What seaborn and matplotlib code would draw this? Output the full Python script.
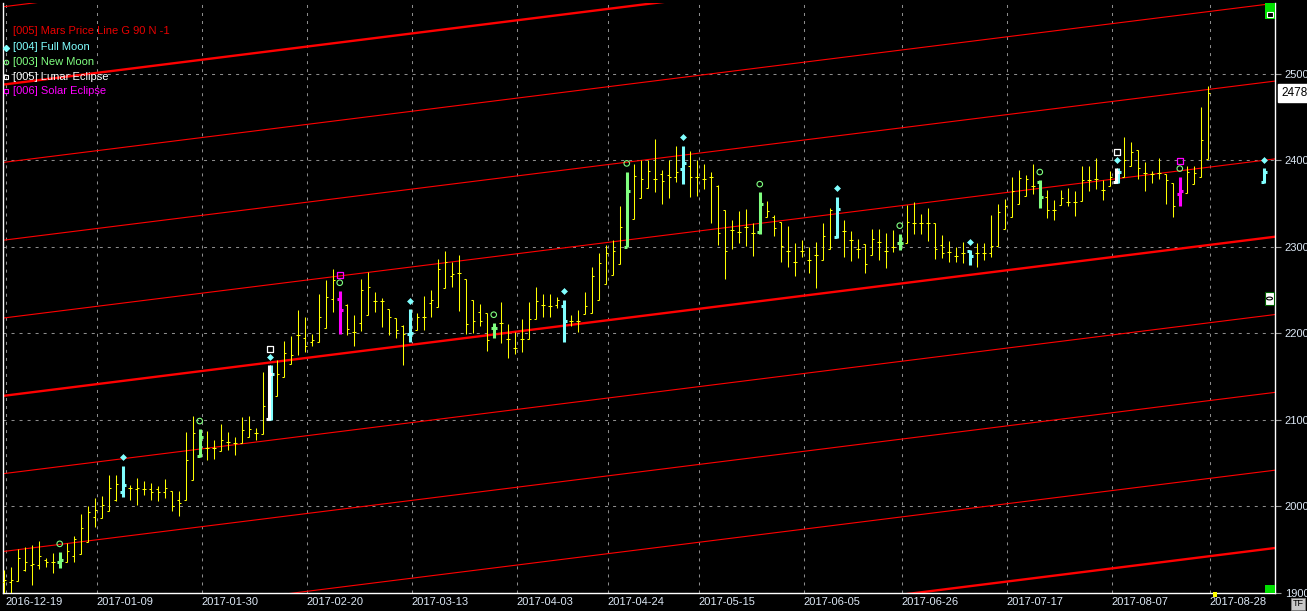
import numpy as np
import pandas as pd
import seaborn as sns
import matplotlib
matplotlib.use("Agg")
import matplotlib.pyplot as plt
from matplotlib.patches import Rectangle, Circle

# daily bars, x = bar number counted from 2016-12-19
opens = [1912, 1912, 1913, 1926, 1932, 1932, 1938, 1936, 1936, 1936,
         1942, 1945, 1959, 1988, 1986, 1994, 2007, 2017, 2021, 2020,
         2020, 2020, 2020, 2016, 2018, 2007, 2007, 2030, 2058, 2067,
         2067, 2064, 2074, 2073, 2073, 2080, 2085, 2084, 2101, 2127,
         2149, 2164, 2198, 2195, 2190, 2190, 2206, 2240, 2240, 2233,
         2202, 2212, 2221, 2237, 2237, 2228, 2218, 2208, 2199, 2204,
         2219, 2235, 2230, 2252, 2266, 2270, 2263, 2238, 2225, 2223,
         2206, 2212, 2193, 2183, 2193, 2193, 2216, 2233, 2231, 2233,
         2232, 2214, 2214, 2222, 2223, 2238, 2257, 2267, 2280, 2300,
         2332, 2356, 2368, 2379, 2384, 2383, 2381, 2390, 2393, 2381,
         2378, 2381, 2370, 2343, 2320, 2317, 2323, 2316, 2317, 2334,
         2334, 2329, 2295, 2283, 2295, 2285, 2291, 2285, 2298, 2311,
         2318, 2308, 2298, 2303, 2291, 2306, 2295, 2300, 2304, 2304,
         2328, 2328, 2328, 2327, 2302, 2294, 2289, 2293, 2295, 2293,
         2293, 2293, 2301, 2321, 2334, 2349, 2359, 2370, 2375, 2358,
         2343, 2348, 2352, 2352, 2353, 2377, 2379, 2366, 2370, 2375,
         2381, 2393, 2412, 2385, 2384, 2385, 2384, 2374, 2361, 2362,
         2373, 2381, 2402]
highs = [1926, 1930, 1951, 1953, 1955, 1960, 1940, 1946, 1947, 1958,
         1966, 1991, 2000, 2009, 2012, 2036, 2036, 2047, 2025, 2033,
         2029, 2027, 2023, 2032, 2018, 2018, 2086, 2104, 2089, 2087,
         2077, 2095, 2086, 2080, 2103, 2104, 2090, 2155, 2163, 2169,
         2191, 2197, 2227, 2219, 2199, 2246, 2262, 2274, 2249, 2234,
         2221, 2263, 2271, 2248, 2241, 2228, 2218, 2210, 2228, 2223,
         2243, 2250, 2286, 2295, 2283, 2290, 2263, 2238, 2234, 2223,
         2212, 2236, 2211, 2201, 2216, 2236, 2253, 2246, 2245, 2242,
         2239, 2221, 2227, 2248, 2277, 2293, 2302, 2308, 2347, 2387,
         2396, 2400, 2400, 2425, 2389, 2401, 2417, 2417, 2411, 2401,
         2396, 2387, 2371, 2343, 2331, 2342, 2344, 2327, 2363, 2353,
         2337, 2329, 2324, 2304, 2308, 2300, 2306, 2327, 2345, 2358,
         2331, 2318, 2309, 2303, 2321, 2321, 2316, 2320, 2315, 2348,
         2352, 2338, 2345, 2328, 2314, 2307, 2300, 2306, 2296, 2304,
         2304, 2337, 2350, 2355, 2381, 2389, 2383, 2396, 2377, 2366,
         2354, 2366, 2368, 2364, 2394, 2393, 2403, 2377, 2388, 2391,
         2427, 2421, 2412, 2398, 2388, 2403, 2384, 2374, 2381, 2393,
         2393, 2462, 2486]
lows = [1898, 1898, 1913, 1925, 1909, 1927, 1930, 1923, 1929, 1936,
        1935, 1945, 1959, 1976, 1986, 1994, 2006, 2011, 2007, 2001,
        2013, 2007, 2006, 2010, 1994, 1989, 2007, 2030, 2057, 2054,
        2055, 2064, 2065, 2059, 2073, 2080, 2077, 2084, 2100, 2127,
        2149, 2164, 2175, 2178, 2185, 2190, 2206, 2225, 2199, 2198,
        2185, 2203, 2221, 2225, 2207, 2198, 2194, 2163, 2190, 2204,
        2204, 2219, 2230, 2252, 2254, 2226, 2199, 2200, 2209, 2180,
        2194, 2189, 2172, 2176, 2178, 2193, 2216, 2219, 2219, 2229,
        2190, 2209, 2202, 2222, 2223, 2238, 2257, 2267, 2280, 2300,
        2332, 2356, 2368, 2363, 2349, 2357, 2375, 2373, 2358, 2359,
        2367, 2327, 2302, 2263, 2297, 2304, 2301, 2289, 2315, 2334,
        2312, 2283, 2277, 2266, 2288, 2270, 2252, 2285, 2297, 2310,
        2288, 2284, 2287, 2270, 2291, 2285, 2276, 2294, 2296, 2304,
        2315, 2315, 2307, 2286, 2287, 2283, 2283, 2281, 2279, 2277,
        2285, 2288, 2301, 2321, 2334, 2349, 2359, 2361, 2345, 2333,
        2331, 2348, 2347, 2336, 2353, 2364, 2367, 2354, 2370, 2374,
        2381, 2393, 2379, 2364, 2374, 2378, 2350, 2335, 2347, 2362,
        2373, 2381, 2402]
closes = [1915, 1915, 1940, 1936, 1933, 1942, 1936, 1936, 1938, 1948,
          1962, 1975, 1993, 1996, 2001, 2021, 2026, 2025, 2021, 2021,
          2020, 2017, 2017, 2021, 2000, 2004, 2053, 2085, 2080, 2067,
          2067, 2077, 2074, 2073, 2088, 2089, 2085, 2116, 2153, 2153,
          2177, 2175, 2198, 2185, 2192, 2219, 2242, 2262, 2227, 2205,
          2202, 2250, 2253, 2237, 2237, 2219, 2204, 2199, 2200, 2219,
          2219, 2239, 2274, 2282, 2269, 2270, 2211, 2214, 2214, 2192,
          2206, 2212, 2193, 2183, 2193, 2216, 2237, 2233, 2231, 2239,
          2214, 2214, 2214, 2231, 2266, 2281, 2293, 2295, 2323, 2365,
          2382, 2379, 2388, 2379, 2376, 2381, 2387, 2397, 2381, 2381,
          2378, 2381, 2316, 2295, 2320, 2317, 2323, 2316, 2350, 2341,
          2322, 2301, 2295, 2283, 2295, 2285, 2291, 2312, 2343, 2344,
          2318, 2308, 2298, 2280, 2309, 2306, 2295, 2300, 2304, 2329,
          2328, 2328, 2327, 2298, 2293, 2294, 2289, 2293, 2289, 2293,
          2293, 2301, 2340, 2347, 2364, 2380, 2379, 2370, 2358, 2343,
          2343, 2356, 2352, 2352, 2377, 2377, 2379, 2366, 2381, 2387,
          2401, 2410, 2391, 2385, 2384, 2385, 2377, 2347, 2365, 2386,
          2385, 2424, 2478]

date_ticks = [0, 13, 28, 43, 58, 73, 86, 99, 114, 128, 143, 158, 172]
date_labels = ["2016-12-19", "2017-01-09", "2017-01-30", "2017-02-20",
               "2017-03-13", "2017-04-03", "2017-04-24", "2017-05-15",
               "2017-06-05", "2017-06-26", "2017-07-17", "2017-08-07",
               "2017-08-28"]
price_ticks = [1900, 2000, 2100, 2200, 2300, 2400, 2500]
last_price = 2478

full_moon = [17, 38, 58, 80, 97, 119, 138, 159]
new_moon = [8, 28, 48, 70, 89, 108, 128, 148, 168]
lunar_eclipse = [38, 159]
solar_eclipse = [48, 168]

# next full moon, drawn past the last bar
proj_bar = 180
proj_ohlc = [2375, 2391, 2374, 2387]

# Mars price lines, G 90: level at bar -1 and at bar 182
mars_start = [1766.7, 1856.7, 1946.7, 2036.7, 2126.7,
              2216.7, 2306.7, 2396.7, 2486.7, 2576.7]
mars_end = [1952.1, 2042.1, 2132.1, 2222.1, 2312.1,
            2402.1, 2492.1, 2582.1, 2672.1, 2762.1]
mars_thick = [True, False, False, False, True,
              False, False, False, True, False]

assert len(opens) == len(highs) == len(lows) == len(closes) == 173

YELLOW = "#ffff00"
RED = "#ff0000"
CYAN = "#80ffff"
GREEN = "#80ff80"
MAGENTA = "#ff00ff"
WHITE = "#ffffff"
TXT = "#dde8f5"
FS = 8

sns.set_style("dark", {"axes.facecolor": "black", "figure.facecolor": "black"})
plt.rcParams["font.family"] = ["Liberation Sans", "DejaVu Sans"]

bars = pd.DataFrame({"open": opens, "high": highs, "low": lows, "close": closes})
bars["bar"] = np.arange(len(bars))

W, H = 1307, 611
fig = plt.figure(figsize=(W / 100, H / 100), dpi=100, facecolor="black")
ax = fig.add_axes([3 / W, (H - 592.7) / H, 1272 / W, (592.7 - 3) / H])
ax.set_facecolor("black")

# mars lines
rows = []
for i, (s, e, t) in enumerate(zip(mars_start, mars_end, mars_thick)):
    rows.append({"line": i, "bar": -1, "price": s, "thick": t})
    rows.append({"line": i, "bar": 182, "price": e, "thick": t})
mars = pd.DataFrame(rows)
sns.lineplot(data=mars[~mars.thick], x="bar", y="price", units="line",
             estimator=None, color=RED, lw=0.8, ax=ax, zorder=2)
sns.lineplot(data=mars[mars.thick], x="bar", y="price", units="line",
             estimator=None, color=RED, lw=1.7, ax=ax, zorder=2)

# plain bars
special = set(full_moon) | set(new_moon) | set(lunar_eclipse) | set(solar_eclipse)
plain = bars[~bars.bar.isin(special)]
kw = dict(color=YELLOW, lw=0.75, zorder=3)
ax.vlines(plain.bar, plain.low, plain.high, **kw)
ax.hlines(plain.open, plain.bar - 0.3, plain.bar, **kw)
ax.hlines(plain.close, plain.bar, plain.bar + 0.3, **kw)


def event_bars(idx, color, shift=0.0):
    d = bars[bars.bar.isin(idx)]
    x = d.bar + shift
    ekw = dict(color=color, lw=2.2, zorder=4)
    ax.vlines(x, d.low, d.high, **ekw)
    ax.hlines(d.open, x - 0.45, x, **ekw)
    ax.hlines(d.close, x, x + 0.45, **ekw)


fm_only = [b for b in full_moon if b not in lunar_eclipse]
nm_only = [b for b in new_moon if b not in solar_eclipse]
event_bars(nm_only, GREEN)
event_bars(fm_only, CYAN)
event_bars(lunar_eclipse, CYAN, 0.12)
event_bars(lunar_eclipse, WHITE, -0.12)
event_bars(solar_eclipse, MAGENTA)

# projected full-moon bar
px = proj_bar
ax.vlines([px], [proj_ohlc[2]], [proj_ohlc[1]], color=CYAN, lw=2.2, zorder=4)
ax.hlines([proj_ohlc[0]], [px - 0.45], [px], color=CYAN, lw=2.2, zorder=4)
ax.hlines([proj_ohlc[3]], [px], [px + 0.45], color=CYAN, lw=2.2, zorder=4)

# event markers above the bars
hi = bars.set_index("bar")["high"]
fm = pd.DataFrame({"bar": full_moon + [proj_bar],
                   "y": [hi[b] + 9.5 for b in full_moon] + [proj_ohlc[1] + 9.5]})
nm = pd.DataFrame({"bar": new_moon, "y": [hi[b] + 9.5 for b in new_moon]})
le = pd.DataFrame({"bar": lunar_eclipse, "y": [hi[b] + 18.5 for b in lunar_eclipse]})
se = pd.DataFrame({"bar": solar_eclipse, "y": [hi[b] + 18.5 for b in solar_eclipse]})
sns.scatterplot(data=fm, x="bar", y="y", marker="D", s=9, color=CYAN,
                edgecolor=CYAN, linewidth=0.5, ax=ax, zorder=5)
sns.scatterplot(data=nm, x="bar", y="y", marker="o", s=16, facecolor="none",
                edgecolor=GREEN, linewidth=0.8, ax=ax, zorder=5)
sns.scatterplot(data=le, x="bar", y="y", marker="s", s=20, facecolor="none",
                edgecolor=WHITE, linewidth=0.9, ax=ax, zorder=5)
sns.scatterplot(data=se, x="bar", y="y", marker="s", s=20, facecolor="none",
                edgecolor=MAGENTA, linewidth=0.9, ax=ax, zorder=5)

# axes
ax.set_xlim(-0.1, 181.6)
ax.set_ylim(1900, 2582)
ax.set_xlabel("")
ax.set_ylabel("")
ax.set_xticks([t + 0.3 for t in date_ticks])
ax.set_xticklabels(date_labels, ha="left")
ax.set_yticks(price_ticks)
ax.set_yticklabels([str(p) for p in price_ticks])
ax.yaxis.tick_right()
ax.tick_params(axis="x", length=0, pad=3, labelsize=FS, labelcolor=TXT)
ax.tick_params(axis="y", length=4, width=0.8, color="#9a9a9a", pad=3,
               labelsize=FS, labelcolor=TXT, left=False, right=True)
ax.grid(True, color="#8c8c8c", linestyle=(0, (2.9, 4.8)), linewidth=0.75, zorder=0)
ax.set_axisbelow(True)
for side in ["left", "bottom", "right"]:
    ax.spines[side].set_visible(True)
    ax.spines[side].set_color(WHITE)
    ax.spines[side].set_linewidth(1.0)
ax.spines["top"].set_visible(False)

# legend block, top left
def fx(px_):
    return px_ / W


def fy(py_):
    return 1 - py_ / H


fig.text(fx(13), fy(30.5), "[005] Mars Price Line G 90 N -1", color="#e80000",
         fontsize=FS, va="center", ha="left")
legend_items = [("[004] Full Moon", CYAN, "D", CYAN, 47.5),
                ("[003] New Moon", GREEN, "o", "none", 62),
                ("[005] Lunar Eclipse", WHITE, "s", "none", 76.5),
                ("[006] Solar Eclipse", MAGENTA, "s", "none", 90.5)]
for label, col, mk, fc, yy in legend_items:
    fig.text(fx(13), fy(yy), label, color=col, fontsize=FS, va="center", ha="left")
    fig.lines.append(plt.Line2D([fx(6)], [fy(yy)], marker=mk, markersize=3.2,
                                markerfacecolor=fc, markeredgecolor=col,
                                markeredgewidth=0.8, transform=fig.transFigure))

# last price box
ax.annotate(str(last_price), xy=(1.0, last_price), xycoords=("axes fraction", "data"),
            xytext=(4.5, 0), textcoords="offset points", va="center", ha="left",
            fontsize=8.5, color="black",
            bbox=dict(boxstyle="square,pad=0.25", fc="white", ec="white"))

# small widgets on the right edge
def frect(x0, y0, x1, y1, **kw):
    fig.patches.append(Rectangle((fx(x0), fy(y1)), (x1 - x0) / W, (y1 - y0) / H,
                                 transform=fig.transFigure, **kw))


frect(1265, 3, 1275, 19, fc="#00e000", ec="none")
frect(1267, 12, 1273, 17, fc="black", ec="white", lw=0.8)
frect(1265, 292, 1274, 305, fc="white", ec="#006000", lw=0.8)
fig.patches.append(Circle((fx(1269.5), fy(298.5)), 3 / W, transform=fig.transFigure,
                          fc="none", ec="black", lw=0.8))
frect(1265, 585, 1275, 593, fc="#00e000", ec="none")
frect(1213, 592, 1217, 597, fc=YELLOW, ec="none")
frect(1291, 598, 1305, 610, fc="#c8c8c8", ec="#808080", lw=0.6)
fig.text(fx(1298), fy(604), "TF", color="black", fontsize=6.5, ha="center", va="center")

fig.savefig("out.png", dpi=100, facecolor="black")
